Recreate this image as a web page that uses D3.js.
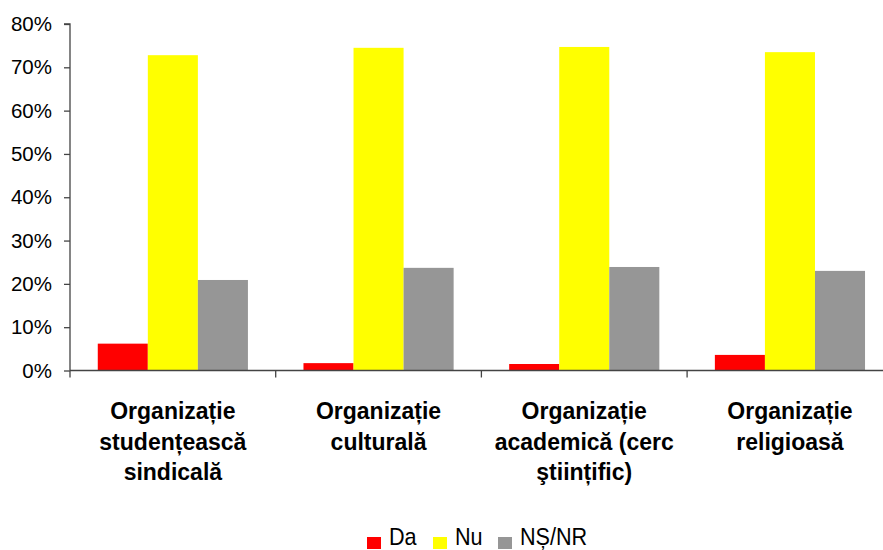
<!DOCTYPE html>
<html><head><meta charset="utf-8">
<script src="https://cdn.jsdelivr.net/npm/d3@7"></script>
<style>body{margin:0;background:#fff}svg{display:block}</style>
</head><body>
<svg id="c" width="883" height="550"></svg>
<script>
const categories = [
  ["Organizație","studențească","sindicală"],
  ["Organizație","culturală"],
  ["Organizație","academică (cerc","ştiințific)"],
  ["Organizație","religioasă"]
];
const seriesNames = ["Da","Nu","NȘ/NR"];
const seriesColors = ["#ff0000","#ffff00","#969696"];
const da   = [6.2, 1.7, 1.5, 3.6];
const nu   = [72.8, 74.5, 74.7, 73.5];
const nsnr = [20.9, 23.7, 23.9, 23.0];
const yTicks = [0,10,20,30,40,50,60,70,80];

(function(){
const series = [da, nu, nsnr];
const svg = d3.select("#c");
const pLeft = 70, pRight = 892.8, pTop = 24, pBottom = 370.5;
const ids = categories.map((c,i)=>i);
const x0 = d3.scaleBand().domain(ids).range([pLeft,pRight]).paddingInner(0.27).paddingOuter(0.135);
const x1 = d3.scaleBand().domain([0,1,2]).range([0,x0.bandwidth()]);
const y = d3.scaleLinear().domain([0,80]).range([pBottom,pTop]);
const step = x0.step();

// bars
ids.forEach(i=>{
  series.forEach((s,k)=>{
    svg.append("rect")
      .attr("x", x0(i)+x1(k)).attr("width", x1.bandwidth())
      .attr("y", y(s[i])).attr("height", y(0)-y(s[i]))
      .attr("fill", seriesColors[k]);
  });
});

// y axis
const yAxis = d3.axisLeft(y).tickValues(yTicks).tickSize(6).tickPadding(12).tickFormat(d=>d+"%");
const gy = svg.append("g").attr("transform",`translate(${pLeft},0)`).call(yAxis);
gy.select(".domain").attr("stroke","#444").attr("stroke-width",1.3).attr("d",`M-6,${pTop}H0V${pBottom}`);
gy.selectAll(".tick line").attr("stroke","#444").attr("stroke-width",1.3);
gy.selectAll(".tick text").attr("font-family","'Liberation Sans',Arial,sans-serif").attr("font-size",20.5).attr("fill","#000");

// x axis
svg.append("line").attr("x1",pLeft).attr("x2",pRight).attr("y1",pBottom).attr("y2",pBottom)
  .attr("stroke","#444").attr("stroke-width",1.3);
d3.range(0,5).forEach(j=>{
  const xx = pLeft + j*step;
  svg.append("line").attr("x1",xx).attr("x2",xx).attr("y1",pBottom).attr("y2",pBottom+7)
    .attr("stroke","#444").attr("stroke-width",1.3);
});

// category labels
ids.forEach(i=>{
  const cx = x0(i) + x0.bandwidth()/2;
  const t = svg.append("text").attr("text-anchor","middle")
    .attr("font-family","'Liberation Sans',Arial,sans-serif").attr("font-weight","bold")
    .attr("font-size",23).attr("fill","#000");
  categories[i].forEach((line,l)=>{
    t.append("tspan").attr("x",cx).attr("y",419+l*30.5).text(line);
  });
});

// legend
const legX = [367, 433, 498];
seriesNames.forEach((n,k)=>{
  svg.append("rect").attr("x",legX[k]).attr("y",537).attr("width",14).attr("height",12).attr("fill",seriesColors[k]);
  const tx = legX[k]+22;
  svg.append("text").attr("x",0).attr("y",0)
    .attr("font-family","'Liberation Sans',Arial,sans-serif").attr("font-size",24)
    .attr("transform",`translate(${tx},545) scale(0.9,1)`)
    .attr("fill","#000").text(n);
});
})();
</script>
</body></html>
